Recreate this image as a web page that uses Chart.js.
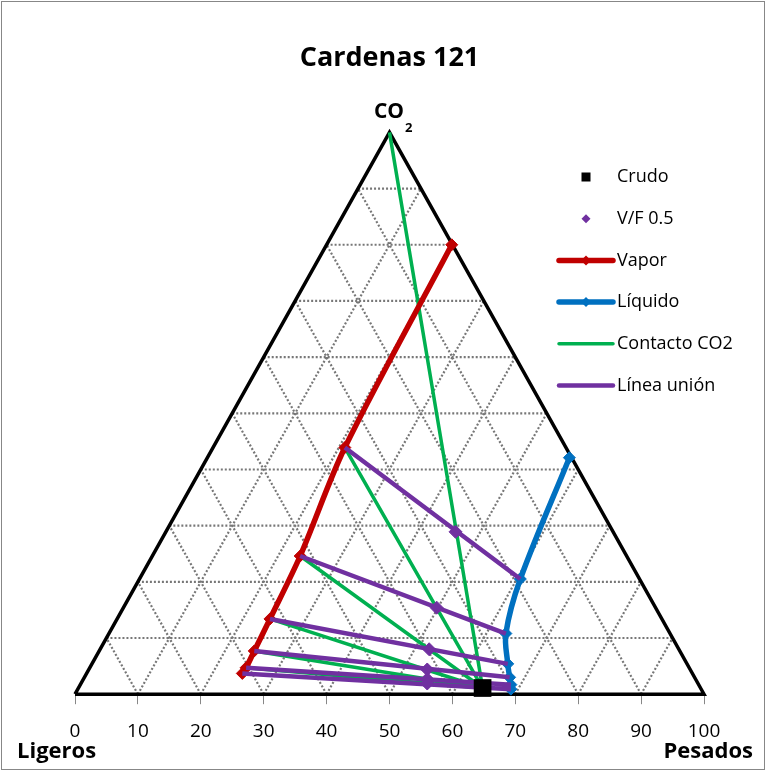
<!DOCTYPE html>
<html>
<head>
<meta charset="utf-8">
<script src="https://cdn.jsdelivr.net/npm/chart.js@4.4.0/dist/chart.umd.min.js"></script>
<style>
  html, body { margin: 0; padding: 0; background: #fff; }
  #wrap { width: 767px; height: 772px; }
</style>
</head>
<body>
<div id="wrap"><canvas id="tern" width="767" height="772"></canvas></div>
<script>
// ternary grid: bottom axis = Pesados (x), height = % CO2 (y, apex = 100)
const bottomTicks = [0, 10, 20, 30, 40, 50, 60, 70, 80, 90, 100];
const gridSteps = [10, 20, 30, 40, 50, 60, 70, 80, 90];

const gasX = [50];
const gasY = [100];
const crudeX = [64.8];
const crudeY = [1.1];

const vaporX = [59.9, 42.9, 35.8, 31.0, 28.5, 27.2, 26.6];
const vaporY = [80.0, 43.9, 24.6, 13.4, 7.7, 4.7, 3.7];

const liquidX = [78.6, 70.8, 68.5, 68.8, 69.1, 69.3, 69.3];
const liquidY = [42.1, 20.5, 10.8, 5.4, 3.0, 1.7, 0.9];

const vfX = [60.5, 57.5, 56.3, 56.0, 56.0, 56.0];
const vfY = [28.9, 15.4, 8.0, 4.4, 2.7, 1.9];

const FONT = "'Open Sans', 'Noto Sans', sans-serif";

function pts(xs, ys) {
  return xs.map((x, i) => ({ x: x, y: ys[i] }));
}

// triangle frame and dotted grid
const frame = [{ x: 0, y: 0 }, { x: 100, y: 0 }, { x: 50, y: 100 }, { x: 0, y: 0 }];
const grid = [];
gridSteps.forEach(g => {
  grid.push({ x: g / 2, y: g }, { x: 100 - g / 2, y: g }, { x: 0, y: null });
  grid.push({ x: g, y: 0 }, { x: 50 + g / 2, y: 100 - g }, { x: 0, y: null });
  grid.push({ x: g, y: 0 }, { x: g / 2, y: g }, { x: 0, y: null });
});

// contact lines: gas -> crude, then each vapour -> crude
const crude = pts(crudeX, crudeY)[0];
const vapor = pts(vaporX, vaporY);
const liquid = pts(liquidX, liquidY);
const contact = [];
contact.push(pts(gasX, gasY)[0], crude, { x: 0, y: null });
for (let i = 1; i <= vfX.length - 1; i++) {
  contact.push(vapor[i], crude, { x: 0, y: null });
}
// tie lines vapour -> liquid
const ties = [];
for (let i = 1; i <= vfX.length; i++) {
  ties.push(vapor[i], liquid[i], { x: 0, y: null });
}

const RED = '#C00000', BLUE = '#0070C0', GREEN = '#00B050', PURPLE = '#7030A0';

const extras = {
  id: 'extras',
  afterDraw(chart) {
    const ctx = chart.ctx;
    ctx.save();
    // chart border
    ctx.strokeStyle = '#878787';
    ctx.lineWidth = 1;
    ctx.strokeRect(1.5, 1.5, 763, 768);

    // apex label
    ctx.fillStyle = '#000';
    ctx.textBaseline = 'middle';
    ctx.font = 'bold 21px ' + FONT;
    ctx.textAlign = 'right';
    ctx.fillText('CO', 404, 112);
    ctx.font = 'bold 13px ' + FONT;
    ctx.textAlign = 'left';
    ctx.fillText('2', 405, 128);

    // corner labels
    ctx.font = 'bold 22px ' + FONT;
    ctx.textAlign = 'left';
    ctx.fillText('Ligeros', 17, 752);
    ctx.textAlign = 'right';
    ctx.fillText('Pesados', 753, 752);

    // legend
    const items = chart.data.datasets.filter(d => d.legendKind);
    ctx.font = '18px ' + FONT;
    items.forEach((d, i) => {
      const y = 177 + i * 41.7;
      const cx = 586;
      if (d.legendKind === 'line' || d.legendKind === 'lineMarker') {
        ctx.strokeStyle = d.borderColor;
        ctx.lineWidth = d.borderWidth;
        ctx.lineCap = 'round';
        ctx.beginPath();
        ctx.moveTo(559, y);
        ctx.lineTo(613, y);
        ctx.stroke();
      }
      if (d.legendKind === 'square') {
        ctx.fillStyle = d.pointBackgroundColor;
        ctx.fillRect(cx - 4.5, y - 4.5, 9, 9);
      } else if (d.legendKind === 'marker' || d.legendKind === 'lineMarker') {
        const r = d.legendKind === 'marker' ? 4.5 : 5;
        ctx.fillStyle = d.pointBackgroundColor;
        ctx.beginPath();
        ctx.moveTo(cx - r, y);
        ctx.lineTo(cx, y - r);
        ctx.lineTo(cx + r, y);
        ctx.lineTo(cx, y + r);
        ctx.closePath();
        ctx.fill();
      }
      ctx.fillStyle = '#000';
      ctx.textAlign = 'left';
      ctx.fillText(d.label, 617, y);
    });
    ctx.restore();
  }
};

new Chart(document.getElementById('tern').getContext('2d'), {
  type: 'scatter',
  data: {
    datasets: [
      {
        label: 'Crudo', data: [crude], order: 0, legendKind: 'square',
        pointStyle: 'rect', pointRadius: 12.5, pointBackgroundColor: '#000',
        pointBorderColor: '#000', pointBorderWidth: 0, showLine: false, clip: false
      },
      {
        label: 'V/F 0.5', data: pts(vfX, vfY), order: 1, legendKind: 'marker',
        pointStyle: 'rectRot', pointRadius: 6.5, pointBackgroundColor: PURPLE,
        pointBorderColor: PURPLE, pointBorderWidth: 1, showLine: false, clip: false
      },
      {
        label: 'Vapor', data: vapor, order: 3, legendKind: 'lineMarker',
        showLine: true, borderColor: RED, borderWidth: 5.5, tension: 0.3,
        pointStyle: 'rectRot', pointRadius: 6, pointBackgroundColor: RED,
        pointBorderColor: RED, pointBorderWidth: 1, clip: false
      },
      {
        label: 'Líquido', data: liquid, order: 3, legendKind: 'lineMarker',
        showLine: true, borderColor: BLUE, borderWidth: 5.5, tension: 0.35,
        pointStyle: 'rectRot', pointRadius: 6, pointBackgroundColor: BLUE,
        pointBorderColor: BLUE, pointBorderWidth: 1, clip: false
      },
      {
        label: 'Contacto CO2', data: contact, order: 5, legendKind: 'line',
        showLine: true, spanGaps: false, borderColor: GREEN, borderWidth: 3.5,
        pointRadius: 0, clip: false
      },
      {
        label: 'Línea unión', data: ties, order: 2, legendKind: 'line',
        showLine: true, spanGaps: false, borderColor: PURPLE, borderWidth: 4.5,
        pointRadius: 0, clip: false
      },
      {
        label: '_frame', data: frame, order: 6,
        showLine: true, borderColor: '#000', borderWidth: 3.5, pointRadius: 0,
        borderJoinStyle: 'miter', clip: false
      },
      {
        label: '_grid', data: grid, order: 7,
        showLine: true, spanGaps: false, borderColor: '#777777', borderWidth: 2.2,
        borderDash: [2, 2], pointRadius: 0, clip: false
      }
    ]
  },
  options: {
    responsive: false,
    devicePixelRatio: 1,
    animation: false,
    events: [],
    layout: { padding: { left: 75, right: 63, top: 0, bottom: 13 } },
    plugins: {
      legend: { display: false },
      tooltip: { enabled: false },
      title: {
        display: true,
        text: 'Cardenas 121',
        color: '#000',
        font: { family: FONT, size: 27, weight: 'bold', lineHeight: 1.2 },
        padding: { top: 42, bottom: 58 }
      }
    },
    scales: {
      x: {
        type: 'linear', min: 0, max: 100,
        afterBuildTicks: axis => { axis.ticks = bottomTicks.map(v => ({ value: v })); },
        ticks: { color: '#000', padding: 16, font: { family: FONT, size: 19 } },
        grid: { drawOnChartArea: false, drawTicks: true, tickLength: 10, color: '#878787' },
        border: { display: false }
      },
      y: { type: 'linear', min: 0, max: 100, display: false }
    }
  },
  plugins: [extras]
});
</script>
</body>
</html>
